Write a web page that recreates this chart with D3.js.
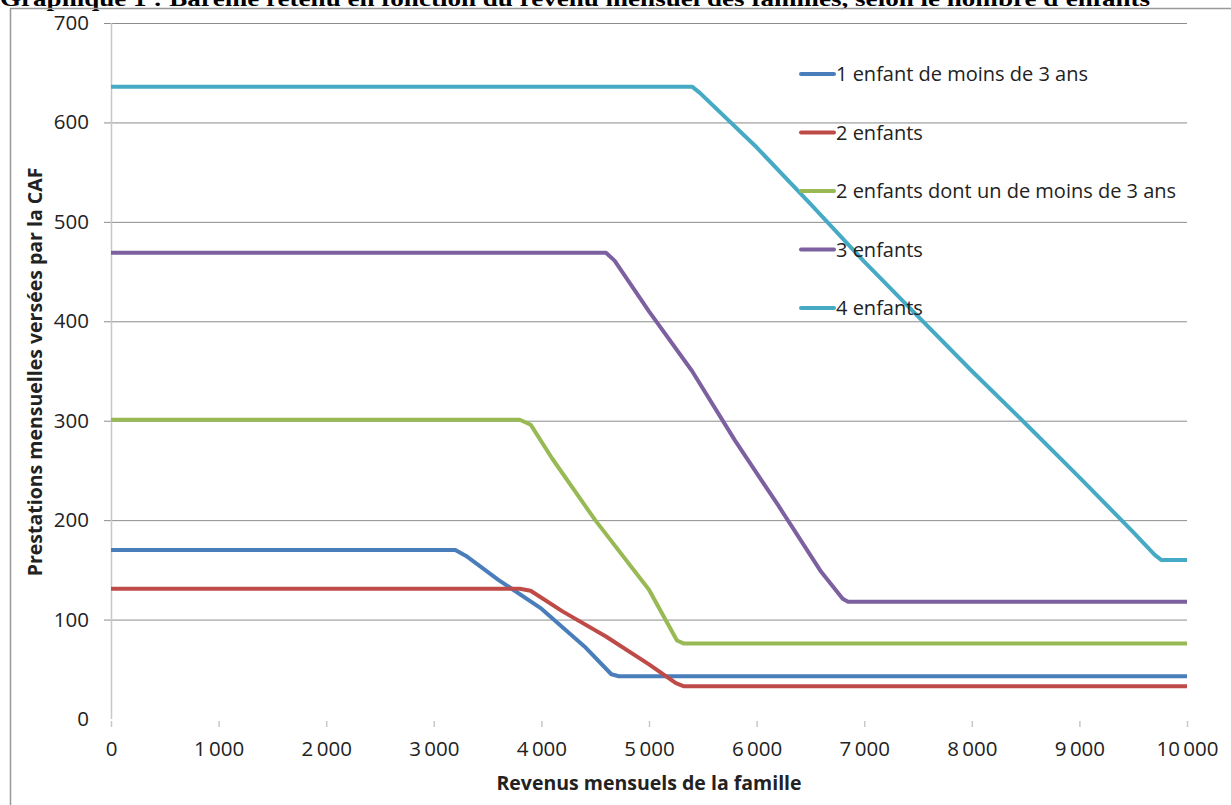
<!DOCTYPE html>
<html><head><meta charset="utf-8">
<script src="https://cdn.jsdelivr.net/npm/d3@7"></script>
<style>html,body{margin:0;padding:0;background:#fff;overflow:hidden}</style>
</head><body>
<svg id="c" width="1231" height="805"></svg>
<script>
const seriesNames = ["1 enfant de moins de 3 ans","2 enfants","2 enfants dont un de moins de 3 ans","3 enfants","4 enfants"];
const seriesColors = ["#4A7EBB","#BE4B48","#98B954","#7D60A0","#46AAC5"];
// revenus (x) and prestations (y) at breakpoints
const s1x = [0, 3200, 3300, 3600, 4000, 4400, 4650, 4720, 10000];
const s1y = [170, 170, 164, 140, 111, 73, 45, 43, 43];
const s2x = [0, 3800, 3900, 4200, 4600, 5000, 5250, 5320, 10000];
const s2y = [131, 131, 129, 108, 83, 55, 36, 33, 33];
const s3x = [0, 3800, 3900, 4100, 4500, 5000, 5260, 5320, 10000];
const s3y = [301, 301, 296, 262, 200, 130, 79, 76, 76];
const s4x = [0, 4600, 4680, 5000, 5400, 5800, 6200, 6600, 6800, 6850, 10000];
const s4y = [469, 469, 461, 410, 350, 280, 215, 148, 121, 118, 118];
const s5x = [0, 5400, 5470, 6000, 6500, 7000, 7500, 8000, 8500, 9000, 9500, 9700, 9760, 10000];
const s5y = [636, 636, 630, 575, 518, 460, 405, 350, 297, 243, 188, 165, 160, 160];
const xTicks = [0,1000,2000,3000,4000,5000,6000,7000,8000,9000,10000];
const yTicks = [0,100,200,300,400,500,600,700];
const title = "Graphique 1 : Barème retenu en fonction du revenu mensuel des familles, selon le nombre d'enfants";
const xTitle = "Revenus mensuels de la famille";
const yTitle = "Prestations mensuelles versées par la CAF";

const seriesX = [s1x,s2x,s3x,s4x,s5x];
const seriesY = [s1y,s2y,s3y,s4y,s5y];

const svg = d3.select("#c");
const font = "'Open Sans', Lato, sans-serif";
const x = d3.scaleLinear().domain([0,10000]).range([111,1187]);
const y = d3.scaleLinear().domain([0,700]).range([719,23]);

// title (clipped at top, as in source)
svg.append("text").attr("x",0).attr("y",6)
  .attr("font-family","'Liberation Serif', 'Times New Roman', serif").attr("font-weight","bold")
  .attr("font-size",20).attr("textLength",1150).attr("lengthAdjust","spacingAndGlyphs")
  .attr("fill","#000").text(title);

// frame
svg.append("line").attr("x1",10).attr("x2",1231).attr("y1",8.5).attr("y2",8.5).attr("stroke","#999").attr("stroke-width",1.5);
svg.append("line").attr("x1",10.5).attr("x2",10.5).attr("y1",8).attr("y2",805).attr("stroke","#999").attr("stroke-width",1.5);

// gridlines + y axis labels
const gy = svg.append("g").attr("transform","translate(1187,0)");
gy.call(d3.axisLeft(y).tickValues(yTicks).tickSize(1187-104).tickPadding(15).tickFormat(d=>d));
gy.select(".domain").remove();
gy.selectAll(".tick line").attr("stroke","#8c8c8c").attr("stroke-width",1).filter(d=>d===0).remove();
gy.selectAll(".tick text").attr("font-family",font).attr("font-size",20.5).attr("fill","#222");

// y axis line
svg.append("line").attr("x1",111.5).attr("x2",111.5).attr("y1",y(700)).attr("y2",y(0)).attr("stroke","#c8c8c8").attr("stroke-width",1.5);
// x axis
const fmt = d => d3.format(",")(d).replace(/,/g,"\u2009");
const gx = svg.append("g").attr("transform","translate(0,719)");
gx.call(d3.axisBottom(x).tickValues(xTicks).tickSize(8).tickPadding(14).tickFormat(fmt));
gx.select(".domain").remove();
gx.selectAll(".tick line").attr("stroke","#c8c8c8").attr("stroke-width",1.5).attr("y1",2);
gx.selectAll(".tick text").attr("font-family",font).attr("font-size",20.5).attr("fill","#222");

// axis titles
svg.append("text").attr("x",649).attr("y",790).attr("text-anchor","middle")
  .attr("font-family",font).attr("font-weight","bold").attr("font-size",19.5).attr("fill","#222").text(xTitle);
svg.append("text").attr("transform","translate(42,372) rotate(-90)").attr("text-anchor","middle")
  .attr("font-family",font).attr("font-weight","bold").attr("font-size",19.5).attr("fill","#222").text(yTitle);

// lines
const line = d3.line().x(d=>x(d[0])).y(d=>y(d[1]));
seriesX.forEach((xs,i)=>{
  const pts = xs.map((v,j)=>[v, seriesY[i][j]]);
  svg.append("path").datum(pts).attr("d",line).attr("fill","none")
    .attr("stroke",seriesColors[i]).attr("stroke-width",4).attr("stroke-linejoin","round");
});

// legend
const lg = svg.append("g");
seriesNames.forEach((n,i)=>{
  const yy = 74 + i*58.5;
  lg.append("line").attr("x1",801).attr("x2",834).attr("y1",yy).attr("y2",yy)
    .attr("stroke",seriesColors[i]).attr("stroke-width",4).attr("stroke-linecap","round");
  lg.append("text").attr("x",836).attr("y",yy+7).attr("font-family",font).attr("font-size",20)
    .attr("fill","#222").text(n);
});
</script>
</body></html>
